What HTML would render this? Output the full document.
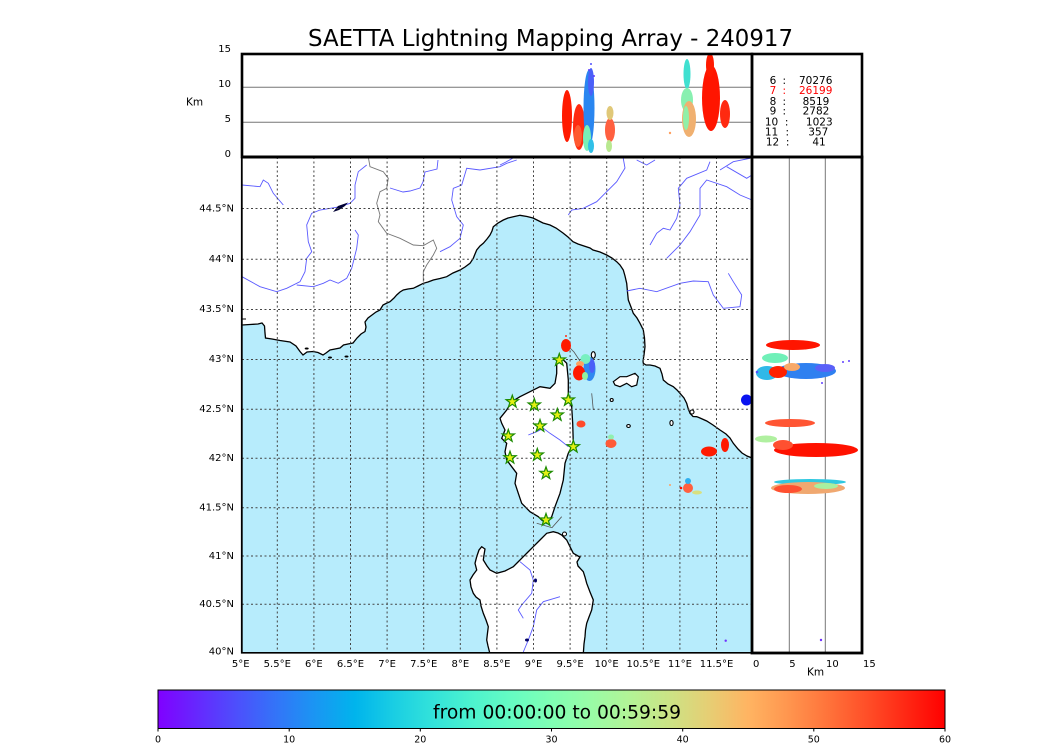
<!DOCTYPE html>
<html><head><meta charset="utf-8"><style>
html,body{margin:0;padding:0;background:#fff;}
body{width:1050px;height:750px;overflow:hidden;}
svg{display:block;font-family:"DejaVu Sans","Liberation Sans",sans-serif;}
</style></head><body>
<svg width="1050" height="750" viewBox="0 0 1050 750" xmlns="http://www.w3.org/2000/svg">
<defs>
<clipPath id="mapclip"><rect x="242" y="157" width="510" height="496"/></clipPath>
<clipPath id="topclip"><rect x="242" y="54" width="510" height="103"/></clipPath>
<clipPath id="rclip"><rect x="752" y="157" width="110" height="496"/></clipPath>
<linearGradient id="rb" x1="0" x2="1" y1="0" y2="0">
<stop offset="0" stop-color="#8000ff"/><stop offset="0.05" stop-color="#6628fe"/><stop offset="0.1" stop-color="#4d4ffc"/><stop offset="0.15" stop-color="#3374f8"/><stop offset="0.2" stop-color="#1a96f3"/><stop offset="0.25" stop-color="#00b4ec"/><stop offset="0.3" stop-color="#1acee3"/><stop offset="0.35" stop-color="#33e3da"/><stop offset="0.4" stop-color="#4df3ce"/><stop offset="0.45" stop-color="#66fcc2"/><stop offset="0.5" stop-color="#80ffb4"/><stop offset="0.55" stop-color="#99fca6"/><stop offset="0.6" stop-color="#b3f396"/><stop offset="0.65" stop-color="#cce385"/><stop offset="0.7" stop-color="#e6ce74"/><stop offset="0.75" stop-color="#ffb462"/><stop offset="0.8" stop-color="#ff964f"/><stop offset="0.85" stop-color="#ff743b"/><stop offset="0.9" stop-color="#ff4f28"/><stop offset="0.95" stop-color="#ff2814"/><stop offset="1" stop-color="#ff0000"/>
</linearGradient>
<path id="star" d="M0,-6.5 L1.53,-2.1 L6.18,-2.01 L2.47,0.8 L3.82,5.26 L0,2.6 L-3.82,5.26 L-2.47,0.8 L-6.18,-2.01 L-1.53,-2.1 Z" fill="#e4f014" stroke="#1b8a00" stroke-width="1.2"/>
</defs>

<!-- Title -->
<text x="308" y="46" font-size="23.5" textLength="485" lengthAdjust="spacingAndGlyphs" fill="#000">SAETTA Lightning Mapping Array - 240917</text>

<!-- ===== MAP ===== -->
<g clip-path="url(#mapclip)">
<rect x="242" y="157" width="510" height="496" fill="#b7ecfc"/>
<!-- mainland -->
<path fill="#fff" d="M242,157 L242,325 L250,324.5 L258,324 L262,323 L264.5,326 L265,333 L265.5,338 L272,339 L280,340.5 L290,342 L296,346 L300,351.5 L303,355 L307,352 L313,351.5 L318,352.5 L323,355 L326,353 L330,350 L335,349 L340,348 L343.5,345 L348,344 L353,343 L357,338 L361,334 L365,331.5 L366,327 L365,322 L368,318 L372,315 L376,312 L380,310 L383,305 L387,303 L390,301.7 L394,298 L396.7,295 L400,292 L403.3,290 L408,289 L413.3,288.3 L418,286 L423.3,283.3 L428,282 L433.3,280 L440,278.5 L446.7,276.7 L453,273 L460,270 L465,267 L470,263.3 L473.3,258.3 L475,254 L476.7,250 L480,246 L483.3,243.3 L487,239 L490,235 L492,231 L493.3,226.7 L498,223 L503.3,220 L508,218 L513.3,216.7 L520,215.3 L527,216.5 L533,218 L537,220 L543,223 L550,225 L556,228 L563,233 L568,237 L573,241.7 L578,244 L584,246 L590,248 L593,250 L600,252 L606.7,255 L612,258 L616.7,261.7 L620,265 L623.3,270 L625,276 L626.7,283.3 L627.5,292 L628.3,300 L631,307 L633.3,313.3 L637,318 L640,323.3 L643.3,330 L644.5,338 L645,346.7 L644,355 L643,361 L643.3,363.3 L646,365 L650,365 L655,366 L660,368.3 L662,374 L663.3,380 L668,384 L673.3,386.7 L677,390 L680,393.3 L684,398 L686.7,403.3 L688,408 L690,413.3 L693,416.5 L696.7,416.7 L700,418 L706.7,421 L713,425 L720,430 L726,434 L730,438 L733.3,443.3 L738,449 L742,453 L747,456 L752,458 L752,157 Z"/>
<polyline fill="none" stroke="#000" stroke-width="1.3" points="242,325 250,324.5 258,324 262,323 264.5,326 265,333 265.5,338 272,339 280,340.5 290,342 296,346 300,351.5 303,355 307,352 313,351.5 318,352.5 323,355 326,353 330,350 335,349 340,348 343.5,345 348,344 353,343 357,338 361,334 365,331.5 366,327 365,322 368,318 372,315 376,312 380,310 383,305 387,303 390,301.7 394,298 396.7,295 400,292 403.3,290 408,289 413.3,288.3 418,286 423.3,283.3 428,282 433.3,280 440,278.5 446.7,276.7 453,273 460,270 465,267 470,263.3 473.3,258.3 475,254 476.7,250 480,246 483.3,243.3 487,239 490,235 492,231 493.3,226.7 498,223 503.3,220 508,218 513.3,216.7 520,215.3 527,216.5 533,218 537,220 543,223 550,225 556,228 563,233 568,237 573,241.7 578,244 584,246 590,248 593,250 600,252 606.7,255 612,258 616.7,261.7 620,265 623.3,270 625,276 626.7,283.3 627.5,292 628.3,300 631,307 633.3,313.3 637,318 640,323.3 643.3,330 644.5,338 645,346.7 644,355 643,361 643.3,363.3 646,365 650,365 655,366 660,368.3 662,374 663.3,380 668,384 673.3,386.7 677,390 680,393.3 684,398 686.7,403.3 688,408 690,413.3 693,416.5 696.7,416.7 700,418 706.7,421 713,425 720,430 726,434 730,438 733.3,443.3 738,449 742,453 747,456 752,458"/>
<line x1="242" y1="319" x2="246" y2="319" stroke="#000" stroke-width="1"/>
<!-- Corsica -->
<path fill="#fff" stroke="#000" stroke-width="1.3" d="M556.7,361.7 L561.7,358.3 L566.7,363.3 L568.3,380 L568.3,396.7 L571.7,406.7 L572.7,423.3 L573.3,443.3 L568.3,453.3 L565,463.3 L563.3,480 L560,493.3 L555,506.7 L551.7,516.7 L546.7,523.3 L541.7,520 L538.3,516.7 L530,511.7 L521.7,503.3 L518.3,493.3 L515,483.3 L516.7,473.3 L511.7,466.7 L506.7,460 L505,451.7 L506.7,443.3 L501.7,438.3 L505,430 L501.7,423.3 L500,418.3 L506.7,410 L511.7,401.7 L520,396.7 L530,391.7 L540,386.7 L550,388.3 L555,383.3 L556.7,373.3 Z"/>
<!-- Sardinia -->
<path fill="#fff" stroke="#000" stroke-width="1.3" d="M540,540 L546.7,533.3 L553.3,531.7 L558,533 L561.7,535 L566.7,540 L570,546.7 L573.3,553.3 L578,556 L580,557 L577,562 L578,566 L583.3,571.7 L585,577 L586.7,583.3 L590,592 L593.3,600 L592.5,605 L591.7,610 L589,617 L586.7,623.3 L585.5,630 L585,636.7 L584,644 L583.3,654 L490,654 L488,646 L486.7,640 L487.5,633 L488.3,626.7 L486,620 L483.3,613.3 L481,606 L480,600 L476,597 L473.3,593.3 L471,587 L470,580 L473,575 L476.7,570 L475,563.3 L476.7,556.7 L479,550 L481.7,546.7 L485,549 L484,555 L483.3,560 L487,566 L490,570 L496.7,573.3 L505,571 L513.3,566.7 L518,562 L523.3,556.7 L528,552 L533.3,546.7 L537,543 Z"/>
<!-- islands -->
<path fill="#fff" stroke="#000" stroke-width="1.2" d="M613.3,381.7 L620,376.7 L626.7,376.7 L635,373.3 L638.3,376.7 L636.7,385 L631.7,386.7 L626.7,383.3 L620,386.7 L615,385 Z"/>
<ellipse cx="593.3" cy="355" rx="2" ry="3.3" fill="#fff" stroke="#000" stroke-width="1.1"/>
<ellipse cx="611.7" cy="400" rx="1.5" ry="1.5" fill="#fff" stroke="#000" stroke-width="1.1"/>
<ellipse cx="628.5" cy="426" rx="1.8" ry="1.5" fill="#fff" stroke="#000" stroke-width="1.1"/>
<ellipse cx="671.5" cy="423" rx="1.6" ry="2.5" fill="#fff" stroke="#000" stroke-width="1.1"/>
<ellipse cx="692" cy="412" rx="2" ry="2" fill="#fff" stroke="#000" stroke-width="1.1"/>
<ellipse cx="306.7" cy="348.5" rx="2" ry="1" fill="#000"/>
<ellipse cx="330" cy="357.5" rx="2" ry="1" fill="#000"/>
<ellipse cx="346.5" cy="356.5" rx="2" ry="1" fill="#000"/>
<ellipse cx="564.5" cy="534" rx="2" ry="2" fill="#fff" stroke="#000" stroke-width="1"/>

<!-- borders (gray) -->
<polyline fill="none" stroke="#777" stroke-width="0.9" points="368.3,157 370,166.7 383.3,171.7 388.3,178.3 386.7,188.3 380,191.7 376.7,203.3 380,215 378.3,221.7 386.7,233.3 400,238.3 413.3,245 423.3,245.7 433.3,240 436.7,248.3 433.3,255 426.7,265 423.3,271.7 423.3,281.7"/>
<!-- rivers -->
<g fill="none" stroke="#5a5aff" stroke-width="0.9">
<polyline points="242,185 260,186.7 263.3,180 268.3,183.3 273.3,193.3 283.3,205"/>
<polyline points="366.7,165 358.3,171.7 355,185 355,198.3 350,203.3 340,206.7 320,210 311.7,213.3 306.7,225 308.3,241.7 311.7,251.7 306.7,258.3 305,271.7 300,281.7 286.7,288.3 276.7,291.7 260,286.7 242,276.7"/>
<polyline points="296.7,285 313.3,286.7 323.3,283.3 330,280 338.3,283.3 346.7,278.3 351.7,268.3 356.7,248.3 358.3,235 355,230"/>
<polyline points="390,188 403,192 410,191 420,188 423,182 425,172 437,169 438,160"/>
<polyline points="440,251.7 450,246.7 460,238.3 463.3,225 456.7,216.7 451.7,200 453.3,188.3 461.7,185 466.7,168.3 480,170 500,166.7 506.7,163.3 516.7,160"/>
<polyline points="500,165 506,162 513,158"/>
<polyline points="623,157 625,168 616.7,181.7 606.7,191.7 596.7,201.7 583.3,208.3 571.7,210 568.3,215"/>
<polyline points="636.7,160 646.7,165 655,160"/>
<polyline points="626.7,291 640,288.3 656.7,291.7 680,283.3 693.3,281 708.3,281.7 713.3,295 723.3,308.3 740,306.7 741.7,295 733.3,281.7 728.3,273.3"/>
<polyline points="650,245 656.7,233.3 663.3,228.3 670,230 676.7,218.3 680,205 678.3,188.3 686.7,178.3 706.7,170 710,161.7"/>
<polyline points="666.7,258.3 680,245 690,231.7 700,215 700,188.3 706.7,180 726.7,186.7 740,195 752,200"/>
<polyline points="720,170 733.3,161.7 750,158.3"/>
<polyline points="726.7,166.7 746.7,178.3 752,175"/>
<polyline points="528.3,435 536.7,431.7 543.3,428.3 550,433.3 560,440 568.3,446.7"/>
<polyline points="520,561.7 530,570 533.3,580 531.7,593.3 521.7,605 518.3,610 523.3,618.3"/>
<polyline points="560,596.7 543.3,601.7 536.7,610 533.3,626.7 528.3,640 523.3,652"/>
</g>
<path d="M333,212 L338,206 L348,202.5 L345,206 L339,210 Z" fill="#000033"/>
<ellipse cx="535.5" cy="580.5" rx="1.5" ry="2" fill="#000066"/>
<ellipse cx="527" cy="640" rx="2" ry="1.5" fill="#000066"/>
<!-- gray network lines -->
<g fill="none" stroke="#555" stroke-width="0.8">
<polyline points="568,346 574,352 580,361"/>
<polyline points="591.7,393.3 593.3,410"/>
<polyline points="536.7,523.3 552,527.7 561.7,516.7"/>
</g>

<!-- grid -->
<g stroke="#444" stroke-width="1" stroke-dasharray="2,2.5" fill="none">
<line x1="277.3" y1="157" x2="277.3" y2="653"/><line x1="313.9" y1="157" x2="313.9" y2="653"/><line x1="350.5" y1="157" x2="350.5" y2="653"/><line x1="387.1" y1="157" x2="387.1" y2="653"/><line x1="423.7" y1="157" x2="423.7" y2="653"/><line x1="460.3" y1="157" x2="460.3" y2="653"/><line x1="496.9" y1="157" x2="496.9" y2="653"/><line x1="533.5" y1="157" x2="533.5" y2="653"/><line x1="570.1" y1="157" x2="570.1" y2="653"/><line x1="606.7" y1="157" x2="606.7" y2="653"/><line x1="643.3" y1="157" x2="643.3" y2="653"/><line x1="679.9" y1="157" x2="679.9" y2="653"/><line x1="716.5" y1="157" x2="716.5" y2="653"/>
<line x1="242" y1="208.5" x2="752" y2="208.5"/><line x1="242" y1="259.3" x2="752" y2="259.3"/><line x1="242" y1="309.5" x2="752" y2="309.5"/><line x1="242" y1="359.5" x2="752" y2="359.5"/><line x1="242" y1="409.3" x2="752" y2="409.3"/><line x1="242" y1="458.3" x2="752" y2="458.3"/><line x1="242" y1="507.7" x2="752" y2="507.7"/><line x1="242" y1="556" x2="752" y2="556"/><line x1="242" y1="604.3" x2="752" y2="604.3"/>
</g>

<!-- lightning in map -->
<ellipse cx="566" cy="345.5" rx="5" ry="6.5" fill="#ff1a00"/>
<circle cx="566" cy="336" r="1" fill="#ff3010"/>
<ellipse cx="589.5" cy="369" rx="6" ry="12" fill="#3088f0"/>
<ellipse cx="592" cy="366" rx="3" ry="7" fill="#4a60f8"/>
<ellipse cx="585.5" cy="359" rx="5" ry="5" fill="#78f0c0"/>
<ellipse cx="580" cy="364" rx="4" ry="3" fill="#ffa060"/>
<ellipse cx="579" cy="373" rx="6" ry="7.5" fill="#ff1a00"/>
<ellipse cx="585" cy="376" rx="3" ry="4" fill="#90f0a0"/>
<ellipse cx="581" cy="424" rx="4.5" ry="3.5" fill="#ff4a2a"/>
<ellipse cx="611" cy="443.5" rx="5.5" ry="4.5" fill="#ff5a38"/>
<ellipse cx="611" cy="437" rx="3" ry="2.5" fill="#90f0b0"/>
<ellipse cx="709" cy="451.5" rx="8" ry="5" fill="#ff1a00"/>
<ellipse cx="725" cy="445" rx="4" ry="7" fill="#ff1a00"/>
<ellipse cx="688" cy="488" rx="5" ry="5" fill="#ff6040"/>
<ellipse cx="688" cy="481" rx="3" ry="3" fill="#30b0f0"/>
<ellipse cx="697" cy="492.5" rx="5" ry="2" fill="#d8e080"/>
<circle cx="681" cy="488" r="1.3" fill="#ff1000"/>
<circle cx="670" cy="485" r="1" fill="#ffa060"/>
<circle cx="725.7" cy="640.7" r="1.2" fill="#7030ff"/>
<circle cx="746.5" cy="400" r="5.5" fill="#0a14f0"/>

<!-- stations -->
<use href="#star" x="559.3" y="360"/><use href="#star" x="512.3" y="401.7"/><use href="#star" x="534.3" y="405"/><use href="#star" x="568.3" y="400"/><use href="#star" x="557.3" y="415"/><use href="#star" x="540" y="426"/><use href="#star" x="508.3" y="436"/><use href="#star" x="573.3" y="446.7"/><use href="#star" x="537.3" y="455"/><use href="#star" x="510" y="457.7"/><use href="#star" x="546" y="473.3"/><use href="#star" x="546" y="520"/>
</g>
<!-- map frame -->
<line x1="241.8" y1="157" x2="241.8" y2="653.5" stroke="#000" stroke-width="1.8"/>
<line x1="241" y1="652.8" x2="752" y2="652.8" stroke="#000" stroke-width="1.6"/>

<!-- lat labels -->
<g font-size="10" text-anchor="end" fill="#000">
<text x="234" y="211.5">44.5°N</text><text x="234" y="262">44°N</text><text x="234" y="312">43.5°N</text><text x="234" y="362">43°N</text><text x="234" y="412">42.5°N</text><text x="234" y="461">42°N</text><text x="234" y="510.5">41.5°N</text><text x="234" y="559">41°N</text><text x="234" y="607">40.5°N</text><text x="234" y="654.5">40°N</text>
</g>
<!-- lon labels -->
<g font-size="10" text-anchor="middle" fill="#000">
<text x="240.7" y="667">5°E</text><text x="277.3" y="667">5.5°E</text><text x="313.9" y="667">6°E</text><text x="350.5" y="667">6.5°E</text><text x="387.1" y="667">7°E</text><text x="423.7" y="667">7.5°E</text><text x="460.3" y="667">8°E</text><text x="496.9" y="667">8.5°E</text><text x="533.5" y="667">9°E</text><text x="570.1" y="667">9.5°E</text><text x="606.7" y="667">10°E</text><text x="643.3" y="667">10.5°E</text><text x="679.9" y="667">11°E</text><text x="716.5" y="667">11.5°E</text>
</g>

<!-- ===== TOP PANEL ===== -->
<line x1="242" y1="87.3" x2="752" y2="87.3" stroke="#777" stroke-width="1"/>
<line x1="242" y1="122.3" x2="752" y2="122.3" stroke="#777" stroke-width="1"/>
<g clip-path="url(#topclip)">
<ellipse cx="567" cy="116" rx="5" ry="26" fill="#ff1a00"/>
<ellipse cx="579" cy="127" rx="6" ry="23" fill="#ff2a10"/>
<ellipse cx="578" cy="136" rx="4" ry="11" fill="#ff5a30"/>
<ellipse cx="589" cy="108" rx="5.5" ry="38" fill="#2a86f0"/>
<ellipse cx="591" cy="82" rx="3" ry="14" fill="#4a5ff8"/>
<ellipse cx="587" cy="138" rx="4" ry="13" fill="#78f0b8"/>
<ellipse cx="591" cy="146" rx="3" ry="7" fill="#30c0e8"/>
<circle cx="591" cy="64" r="1" fill="#5050ff"/><circle cx="589" cy="70" r="1" fill="#6040ff"/><circle cx="594" cy="76" r="1" fill="#6040ff"/>
<ellipse cx="610" cy="130" rx="5" ry="12" fill="#ff6040"/>
<ellipse cx="610" cy="113" rx="3.5" ry="7" fill="#e0c878"/>
<ellipse cx="609" cy="146" rx="3" ry="6" fill="#b8e890"/>
<ellipse cx="687" cy="74" rx="3.5" ry="15" fill="#40e0d0"/>
<ellipse cx="687" cy="100" rx="6" ry="12" fill="#88f0b0"/>
<ellipse cx="689" cy="119" rx="7" ry="18" fill="#f0b070"/>
<ellipse cx="686" cy="118" rx="3" ry="12" fill="#90f0a8"/>
<circle cx="670" cy="133" r="1.2" fill="#ffa060"/>
<ellipse cx="711" cy="98" rx="9" ry="33" fill="#ff1500"/>
<ellipse cx="710" cy="65" rx="4" ry="12" fill="#ff1a00"/>
<ellipse cx="725" cy="114" rx="5" ry="14" fill="#ff2a10"/>
</g>
<rect x="242" y="54" width="510" height="103" fill="none" stroke="#000" stroke-width="2.6"/>
<rect x="752" y="54" width="110" height="103" fill="none" stroke="#000" stroke-width="2.6"/>
<g font-size="10" text-anchor="end" fill="#000">
<text x="231" y="52">15</text><text x="231" y="87">10</text><text x="231" y="122">5</text><text x="231" y="157">0</text>
</g>
<text x="186" y="105.5" font-size="10.5" fill="#000">Km</text>

<!-- legend -->
<g font-size="10.5" text-anchor="middle" fill="#000">
<text x="773" y="83.8">6</text><text x="784.3" y="83.8">:</text><text x="815.7" y="83.8">70276</text>
<text x="773" y="93.8" fill="#ff0000">7</text><text x="784.3" y="93.8" fill="#ff0000">:</text><text x="815.7" y="93.8" fill="#ff0000">26199</text>
<text x="773" y="104.8">8</text><text x="784.3" y="104.8">:</text><text x="816" y="104.8">8519</text>
<text x="773" y="114.5">9</text><text x="784.3" y="114.5">:</text><text x="816" y="114.5">2782</text>
<text x="771.5" y="125.5">10</text><text x="786.7" y="125.5">:</text><text x="819.3" y="125.5">1023</text>
<text x="771.5" y="135.5">11</text><text x="787.3" y="135.5">:</text><text x="818.3" y="135.5">357</text>
<text x="772.5" y="145.5">12</text><text x="787.7" y="145.5">:</text><text x="819" y="145.5">41</text>
</g>

<!-- ===== RIGHT PANEL ===== -->
<line x1="789.3" y1="157" x2="789.3" y2="653" stroke="#777" stroke-width="1"/>
<line x1="825.3" y1="157" x2="825.3" y2="653" stroke="#777" stroke-width="1"/>
<g clip-path="url(#rclip)">
<ellipse cx="793" cy="345" rx="27" ry="5" fill="#ff1500"/>
<ellipse cx="806" cy="371" rx="30" ry="8" fill="#2f80f0"/>
<ellipse cx="775" cy="358" rx="13" ry="5" fill="#70f0b8"/>
<ellipse cx="767" cy="373" rx="11" ry="7" fill="#30b8e8"/>
<ellipse cx="778" cy="372" rx="9" ry="6" fill="#ff2000"/>
<ellipse cx="792" cy="367" rx="8" ry="4" fill="#f8a868"/>
<ellipse cx="825" cy="368" rx="10" ry="4" fill="#5a60f8"/>
<circle cx="757" cy="372" r="1.3" fill="#5050ff"/><circle cx="843" cy="362" r="1" fill="#6040ff"/><circle cx="849" cy="361" r="1" fill="#6040ff"/><circle cx="822" cy="383" r="1" fill="#6040ff"/>
<ellipse cx="790" cy="423" rx="25" ry="4" fill="#ff5533"/>
<ellipse cx="766" cy="439" rx="11" ry="3.5" fill="#b0f0a0"/>
<ellipse cx="816" cy="450" rx="42" ry="7" fill="#ff1200"/>
<ellipse cx="783" cy="445" rx="10" ry="5" fill="#ff5030"/>
<ellipse cx="810" cy="482" rx="36" ry="3" fill="#30c8e0"/>
<ellipse cx="808" cy="488" rx="37" ry="6" fill="#f0a870"/>
<ellipse cx="788" cy="489" rx="14" ry="4" fill="#ff5030"/>
<ellipse cx="826" cy="486" rx="12" ry="3" fill="#a8f0a0"/>
<circle cx="821" cy="640" r="1.2" fill="#7030ff"/>
</g>
<rect x="752" y="157" width="110" height="496" fill="none" stroke="#000" stroke-width="2.8"/>
<line x1="242" y1="157" x2="752" y2="157" stroke="#000" stroke-width="3"/>
<g font-size="10" fill="#000">
<text x="753" y="667">0</text><text x="789.3" y="667">5</text><text x="826" y="667">10</text><text x="863" y="667">15</text>
<text x="807" y="675.5" font-size="10.5">Km</text>
</g>

<!-- ===== COLORBAR ===== -->
<rect x="158" y="690" width="787" height="38.5" fill="url(#rb)" stroke="#000" stroke-width="1"/>
<text x="433" y="718.3" font-size="18.7" textLength="248" lengthAdjust="spacingAndGlyphs" fill="#000">from 00:00:00 to 00:59:59</text>
<g stroke="#000" stroke-width="1">
<line x1="158" y1="728.5" x2="158" y2="731.5"/><line x1="289.2" y1="728.5" x2="289.2" y2="731.5"/><line x1="420.3" y1="728.5" x2="420.3" y2="731.5"/><line x1="551.5" y1="728.5" x2="551.5" y2="731.5"/><line x1="682.7" y1="728.5" x2="682.7" y2="731.5"/><line x1="813.8" y1="728.5" x2="813.8" y2="731.5"/><line x1="945" y1="728.5" x2="945" y2="731.5"/>
</g>
<g font-size="9.5" text-anchor="middle" fill="#000">
<text x="158" y="742.5">0</text><text x="289.2" y="742.5">10</text><text x="420.3" y="742.5">20</text><text x="551.5" y="742.5">30</text><text x="682.7" y="742.5">40</text><text x="813.8" y="742.5">50</text><text x="945" y="742.5">60</text>
</g>
</svg>
</body></html>
